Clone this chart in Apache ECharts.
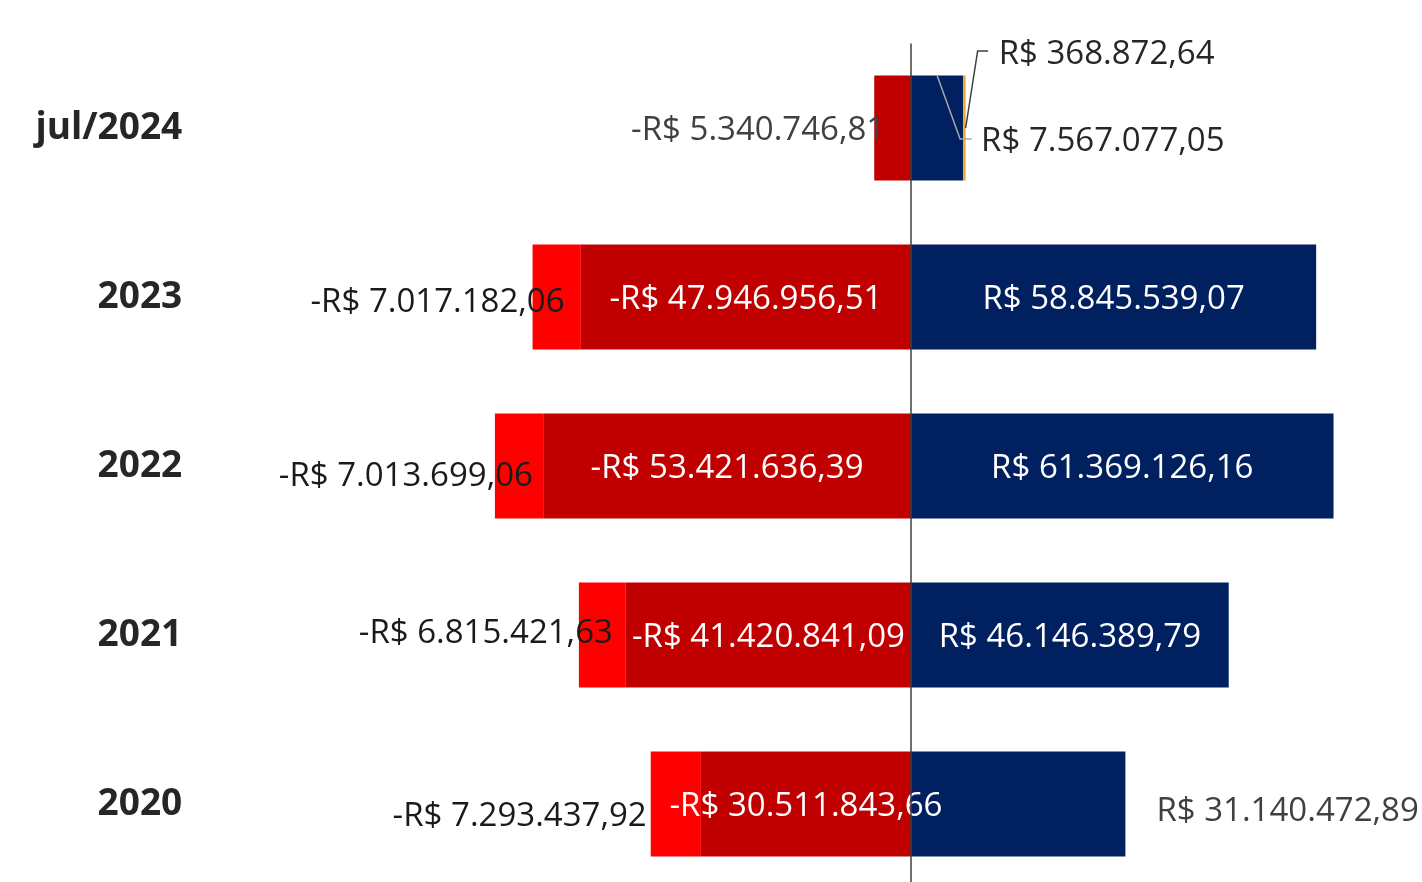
<!DOCTYPE html>
<html>
<head>
<meta charset="utf-8">
<script src="https://cdn.jsdelivr.net/npm/echarts@6/dist/echarts.min.js"></script>
<style>
  html, body { margin: 0; padding: 0; background: #fff; }
  #chart { width: 1422px; height: 882px; }
</style>
</head>
<body>
<div id="chart"></div>
<script>
// categories bottom -> top
const categories = ['2020', '2021', '2022', '2023', 'jul/2024']
// negative parts
const negMain = [-30511843.66, -41420841.09, -53421636.39, -47946956.51, -5340746.81]
const negExtra = [-7293437.92, -6815421.63, -7013699.06, -7017182.06, null]
// positive parts
const posMain = [31140472.89, 46146389.79, 61369126.16, 58845539.07, 7567077.05]
const posExtra = [null, null, null, null, 368872.64]

const FONT = '"Open Sans", "Noto Sans", sans-serif'
const DARK = '#262626'

function brl (v) {
  const neg = v < 0
  const parts = Math.abs(v).toFixed(2).split('.')
  const i = parts[0].replace(/\B(?=(\d{3})+(?!\d))/g, '.')
  return (neg ? '-' : '') + 'R$ ' + i + ',' + parts[1]
}

// label tweaks per bar (index = category)
const negExtraOffsets = [[1, 13], [39, -1], [43, 11], [37, 6], [0, 0]]

const chart = echarts.init(document.getElementById('chart'))

const baseLabel = {
  show: true,
  fontFamily: FONT,
  fontSize: 33,
  offset: [0, 3],
  formatter: p => brl(p.value)
}

chart.setOption({
  animation: false,
  grid: { left: 360.2, top: 43.5, width: 1032.75, height: 845, outerBoundsMode: 'none', containLabel: false },
  xAxis: {
    type: 'value',
    min: -80000000,
    max: 70000000,
    show: false
  },
  yAxis: {
    type: 'category',
    data: categories,
    axisLine: { show: false },
    axisTick: { show: false },
    axisLabel: {
      margin: 178,
      padding: [10, 0, 0, 0],
      fontFamily: FONT,
      fontSize: 37,
      fontWeight: 'bold',
      color: DARK
    }
  },
  series: [
    {
      type: 'bar',
      name: 'negMain',
      stack: 'total',
      barWidth: 105,
      itemStyle: { color: '#C00000' },
      label: { ...baseLabel, position: 'inside', color: '#fff' },
      data: negMain.map((v, i) => i === 4
        ? { value: v, label: { position: 'left', offset: [16, 3], color: '#404040' } }
        : v),
      markLine: {
        silent: true,
        symbol: 'none',
        label: { show: false },
        lineStyle: { color: '#404040', width: 1.5, type: 'solid' },
        data: [{ xAxis: 0 }]
      }
    },
    {
      type: 'bar',
      name: 'negExtra',
      stack: 'total',
      barWidth: 105,
      itemStyle: { color: '#FF0000' },
      label: { ...baseLabel, position: 'left', color: '#1a1a1a' },
      data: negExtra.map((v, i) => v === null ? v : { value: v, label: { offset: negExtraOffsets[i] } })
    },
    {
      type: 'bar',
      name: 'posMain',
      stack: 'total',
      barWidth: 105,
      itemStyle: { color: '#002060' },
      label: { ...baseLabel, position: 'inside', color: '#fff' },
      data: posMain.map((v, i) => {
        if (i === 0) return { value: v, label: { position: 'right', offset: [26, 8], color: '#404040' } }
        if (i === 4) return { value: v, label: { position: 'right', offset: [13, 14], color: DARK } }
        return v
      })
    },
    {
      type: 'bar',
      name: 'posExtra',
      stack: 'total',
      barWidth: 105,
      itemStyle: { color: '#EDA83A' },
      label: { ...baseLabel, position: 'right', offset: [28, -73], color: DARK },
      data: posExtra
    },
    {
      // leader lines for the jul/2024 labels
      type: 'custom',
      silent: true,
      z: 5,
      data: [[posMain[4], 4, posExtra[4]]],
      encode: { x: 0, y: 1 },
      renderItem: function (params, api) {
        const c = api.value(1)
        const p1 = api.coord([api.value(0), c])
        const p2 = api.coord([api.value(0) + api.value(2), c])
        return {
          type: 'group',
          children: [
            {
              type: 'polyline',
              shape: { points: [[p1[0] - 26, p1[1] - 52.5], [p1[0] - 3, p1[1] + 11], [p1[0] + 8.5, p1[1] + 11]] },
              style: { stroke: '#A6A6A6', lineWidth: 1.5, fill: null }
            },
            {
              type: 'polyline',
              shape: { points: [[p2[0], p2[1]], [p2[0] + 12, p2[1] - 77], [p2[0] + 22.5, p2[1] - 77]] },
              style: { stroke: '#404040', lineWidth: 1.5, fill: null }
            }
          ]
        }
      }
    }
  ]
})
window.onresize = function () {
  chart.resize()
}
</script>
</body>
</html>
